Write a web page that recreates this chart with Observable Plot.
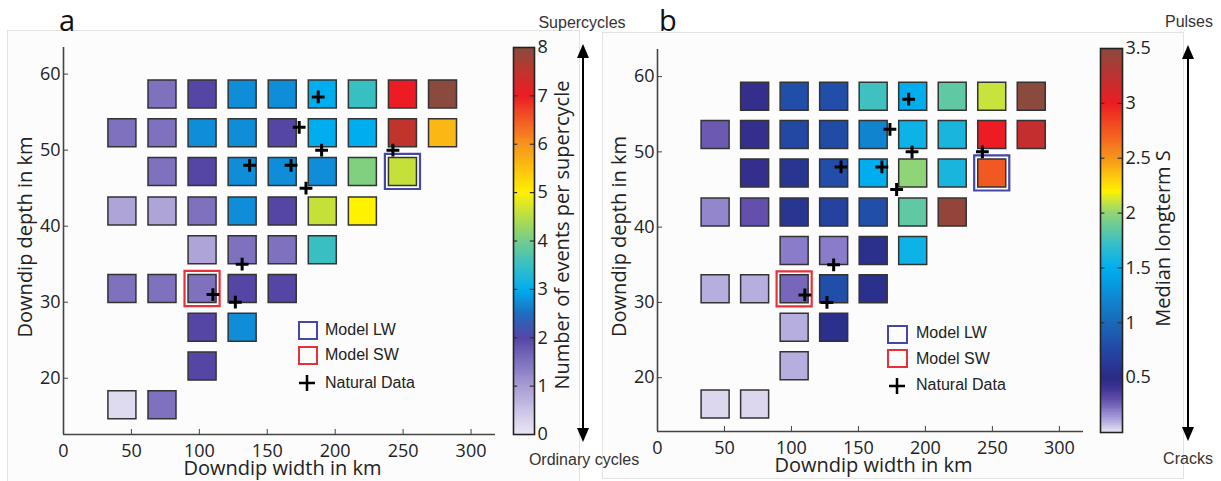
<!DOCTYPE html>
<html><head><meta charset="utf-8">
<script src="https://cdn.jsdelivr.net/npm/d3@7"></script>
<script src="https://cdn.jsdelivr.net/npm/@observablehq/plot@0.6"></script>
<style>
body{margin:0;background:#fff;}
#root{position:relative;width:1221px;height:481px;overflow:hidden;font-family:"Open Sans",sans-serif;color:#222}
.abs{position:absolute}
.box{position:absolute;border:1px solid #e2e2e2;background:#fcfcfc;box-sizing:border-box}
.lg{position:absolute;font-family:"Liberation Sans",Arial,sans-serif;font-size:16px;color:#222;white-space:nowrap;transform:translateY(-50%);line-height:1.2}
.side{position:absolute;font-family:"Liberation Sans",Arial,sans-serif;font-size:16px;color:#333;white-space:nowrap;transform:translate(-50%,-50%);line-height:1.2}
.plab{position:absolute;font-family:"Open Sans",sans-serif;font-size:29px;color:#111;line-height:1}
.sq{position:absolute;box-sizing:border-box;border:2px solid}
</style></head>
<body>
<div id="root">
  <div class="box" style="left:7px;top:30px;width:573px;height:460px"></div>
  <div class="box" style="left:602px;top:32px;width:582px;height:447px"></div>
  <div id="pa" class="abs" style="left:0;top:0"></div>
  <div id="ca" class="abs" style="left:505px;top:0"></div>
  <div id="pb" class="abs" style="left:600px;top:0"></div>
  <div id="cb" class="abs" style="left:1092px;top:0"></div>
  <div class="plab" style="left:59px;top:5px">a</div>
  <div class="plab" style="left:659px;top:5px">b</div>
  <div class="side" style="left:582px;top:23px">Supercycles</div>
  <div class="side" style="left:584px;top:460px">Ordinary cycles</div>
  <div class="side" style="left:1189px;top:22px">Pulses</div>
  <div class="side" style="left:1188px;top:459px">Cracks</div>
  <!-- legends -->
  <div class="sq" style="left:298px;top:321px;width:20px;height:19px;border-color:#4646a8"></div>
  <div class="sq" style="left:298px;top:346px;width:20px;height:19px;border-color:#e8303a"></div>
  <div class="lg" style="left:325px;top:330px">Model LW</div>
  <div class="lg" style="left:325px;top:355px">Model SW</div>
  <div class="lg" style="left:325px;top:383px">Natural Data</div>
  <div class="sq" style="left:887px;top:325px;width:21px;height:19px;border-color:#4646a8"></div>
  <div class="sq" style="left:887px;top:349px;width:21px;height:19px;border-color:#e8303a"></div>
  <div class="lg" style="left:916px;top:333px">Model LW</div>
  <div class="lg" style="left:916px;top:359px">Model SW</div>
  <div class="lg" style="left:916px;top:385px">Natural Data</div>
  <svg class="abs" style="left:0;top:0" width="1221" height="481">
    <g stroke="#000" stroke-width="2.5">
      <line x1="299" x2="315" y1="383" y2="383"/><line x1="307" x2="307" y1="375" y2="391"/>
      <line x1="889" x2="905" y1="386" y2="386"/><line x1="897" x2="897" y1="378" y2="394"/>
    </g>
    <g stroke="#000" stroke-width="2">
      <line x1="583" x2="583" y1="54" y2="432"/>
      <line x1="1188" x2="1188" y1="55" y2="431"/>
    </g>
    <g fill="#000">
      <polygon points="583,44 577,58 589,58"/><polygon points="583,442 577,428 589,428"/>
      <polygon points="1188,45 1182,59 1194,59"/><polygon points="1188,441 1182,427 1194,427"/>
    </g>
  </svg>
</div>
<script>
// ---- grid of models ----
const widths = [43, 72.5, 102, 131.5, 161, 190.5, 220, 249.5, 279];      // downdip width, km
const depths = [57.4, 52.3, 47.2, 42.0, 36.9, 31.8, 26.7, 21.6, 16.5];   // downdip depth, km

// Panel a: number of events per supercycle (rows = depths, cols = widths)
const eventsPerSupercycle = [
  [null, 1.5, 2.0, 2.75, 2.75, 3.0, 3.5, 7.0, 8.0],
  [1.5, 1.5, 2.75, 2.75, 2.0, 3.0, 3.0, 7.5, 5.6],
  [null, 1.5, 2.0, 2.75, 2.75, 2.75, 4.1, 4.6, null],
  [0.9, 0.9, 1.5, 2.75, 2.0, 4.6, 5.0, null, null],
  [null, null, 0.9, 1.5, 1.5, 3.5, null, null, null],
  [1.5, 1.5, 1.5, 2.0, 2.0, null, null, null, null],
  [null, null, 2.0, 2.75, null, null, null, null, null],
  [null, null, 2.0, null, null, null, null, null, null],
  [0.2, 1.5, null, null, null, null, null, null, null]
];

// Panel b: median longterm S
const medianLongtermS = [
  [null, 0.45, 0.8, 0.8, 1.75, 1.5, 1.85, 2.1, 3.5],
  [0.28, 0.45, 0.75, 0.78, 1.2, 1.55, 1.6, 3.0, 3.2],
  [null, 0.45, 0.6, 0.8, 1.5, 2.0, 1.6, 2.75, null],
  [0.18, 0.3, 0.6, 0.7, 0.8, 1.85, 3.45, null, null],
  [null, null, 0.2, 0.2, 0.55, 1.55, null, null, null],
  [0.1, 0.1, 0.25, 0.8, 0.55, null, null, null, null],
  [null, null, 0.1, 0.55, null, null, null, null, null],
  [null, null, 0.1, null, null, null, null, null, null],
  [0.03, 0.03, null, null, null, null, null, null, null]
];

// Natural data
const naturalWidth = [187.5, 173.5, 190, 137, 167.5, 178.5, 242.5, 131.5, 110, 126.5];
const naturalDepth = [57, 53, 50, 48, 48, 45, 50, 35, 31, 30];

// Highlighted models
const modelLW = {w: 249.5, d: 47.2};
const modelSW = {w: 102, d: 31.8};

// Axis ticks
const xTicks = [0, 50, 100, 150, 200, 250, 300];
const yTicks = [20, 30, 40, 50, 60];
const cbTicksA = [0, 1, 2, 3, 4, 5, 6, 7, 8];
const cbTicksB = [0.5, 1, 1.5, 2, 2.5, 3, 3.5];

// Colormaps
const colorA = {type: "linear", interpolate: "rgb",
  domain: [0, 1, 2, 2.5, 3, 3.5, 4, 4.5, 5, 5.5, 6, 6.5, 7, 7.5, 8],
  range: ["#ece9f6", "#a89cd4", "#5546a6", "#1f6cc0", "#00aeef", "#38bfc2", "#72cd8e", "#b8dc48", "#fff200", "#fcc010", "#f7941d", "#f15a24", "#ed1c24", "#c0342c", "#8a4a3e"]};
const colorB = {type: "linear", interpolate: "rgb",
  domain: [0, 0.1, 0.2, 0.3, 0.4, 0.5, 0.75, 1, 1.5, 1.75, 2, 2.2, 2.5, 3, 3.5],
  range: ["#ece9f6", "#b6aedf", "#8a7cc8", "#6450ac", "#3c3494", "#2c2a86", "#2248a4", "#1a68b8", "#00aeef", "#40c0c0", "#90d478", "#fff200", "#f7941d", "#ed1c24", "#8a4a3e"]};

function toCells(matrix) {
  const out = [];
  depths.forEach((d, i) => widths.forEach((w, j) => {
    const v = matrix[i][j];
    if (v != null) out.push({w, d, v});
  }));
  return out;
}
const natural = naturalWidth.map((w, i) => ({w, d: naturalDepth[i]}));

function panel(matrix, colorSpec, yDomain, m) {
  return Plot.plot({
    width: m.width, height: 481,
    marginLeft: m.l, marginRight: m.r, marginTop: m.t, marginBottom: m.b,
    style: {fontFamily: "'Open Sans', sans-serif", fontSize: "18px", color: "#222", background: "transparent", overflow: "visible"},
    x: {domain: [0, 318]},
    y: {domain: yDomain},
    color: colorSpec,
    marks: [
      Plot.ruleX([0], {stroke: "#444", strokeWidth: 1.6}),
      Plot.ruleY([yDomain[0]], {stroke: "#444", strokeWidth: 1.6}),
      Plot.axisX({ticks: xTicks, tickSize: -5, tickPadding: 15, stroke: "#444", label: null, fontSize: 18}),
      Plot.axisY({ticks: yTicks, tickSize: -5, tickPadding: 8, stroke: "#444", label: null, fontSize: 18}),
      Plot.dot([modelLW], {x: "w", y: "d", symbol: "square", r: 19.8, stroke: "#4646a8", strokeWidth: 2.2, fill: "#fff"}),
      Plot.dot([modelSW], {x: "w", y: "d", symbol: "square", r: 19.8, stroke: "#e8303a", strokeWidth: 2.2, fill: "#fff"}),
      Plot.dot(toCells(matrix), {x: "w", y: "d", fill: "v", symbol: "square", r: 15.8, stroke: "#333", strokeWidth: 1.5}),
      Plot.dot(natural, {x: "w", y: "d", symbol: "plus", r: 4.2, stroke: "#000", strokeWidth: 3}),
      Plot.text(["Downdip width in km"], {frameAnchor: "bottom", dy: 26, dx: 3, lineAnchor: "top", fontSize: 20}),
      Plot.text(["Downdip depth in km"], {frameAnchor: "left", textAnchor: "middle", dx: -38, dy: -4, rotate: -90, fontSize: 20})
    ]
  });
}

function colorbar(colorSpec, domain, ticks, innerTicks, title, m) {
  const n = 200, step = (domain[1] - domain[0]) / n;
  const slices = d3.range(n).map(i => domain[0] + i * step);
  return Plot.plot({
    width: 80, height: 481,
    marginLeft: 8, marginRight: m.r, marginTop: m.t, marginBottom: m.b,
    style: {fontFamily: "'Open Sans', sans-serif", fontSize: "18px", color: "#222", background: "transparent", overflow: "visible"},
    x: {domain: [0, 1], axis: null},
    y: {domain: domain},
    color: colorSpec,
    marks: [
      Plot.rect(slices, {y1: d => d, y2: d => d + step, fill: d => d + step / 2, stroke: d => d + step / 2, strokeWidth: 1, shapeRendering: "crispEdges"}),
      Plot.ruleY(innerTicks, {x1: 0, x2: 0.2, stroke: "#333", strokeWidth: 1.2}),
      Plot.ruleY(innerTicks, {x1: 0.8, x2: 1, stroke: "#333", strokeWidth: 1.2}),
      Plot.frame({stroke: "#222", strokeWidth: 1.6}),
      Plot.axisY({anchor: "right", ticks: ticks, tickSize: 0, tickPadding: 3, tickFormat: d => String(d), label: null, fontSize: 18}),
      Plot.text([title], {frameAnchor: "right", textAnchor: "middle", dx: m.tdx, dy: m.tdy, rotate: -90, fontSize: 20})
    ]
  });
}

document.getElementById("pa").append(panel(eventsPerSupercycle, colorA, [12.6, 63.5], {width: 580, l: 63, r: 85, t: 47, b: 47}));
document.getElementById("pb").append(panel(medianLongtermS, colorB, [12.85, 63.6], {width: 620, l: 57, r: 137, t: 49, b: 50}));
document.getElementById("ca").append(colorbar(colorA, [0, 8], cbTicksA, [1, 2, 3, 4, 5, 6, 7], "Number of events per supercycle", {r: 51, t: 47, b: 47, tdx: 28, tdy: -6}));
document.getElementById("cb").append(colorbar(colorB, [0, 3.5], cbTicksB, [0.5, 1, 1.5, 2, 2.5, 3], "Median longterm S", {r: 50, t: 48, b: 49, tdx: 41, tdy: -2}));
</script>
</body></html>
